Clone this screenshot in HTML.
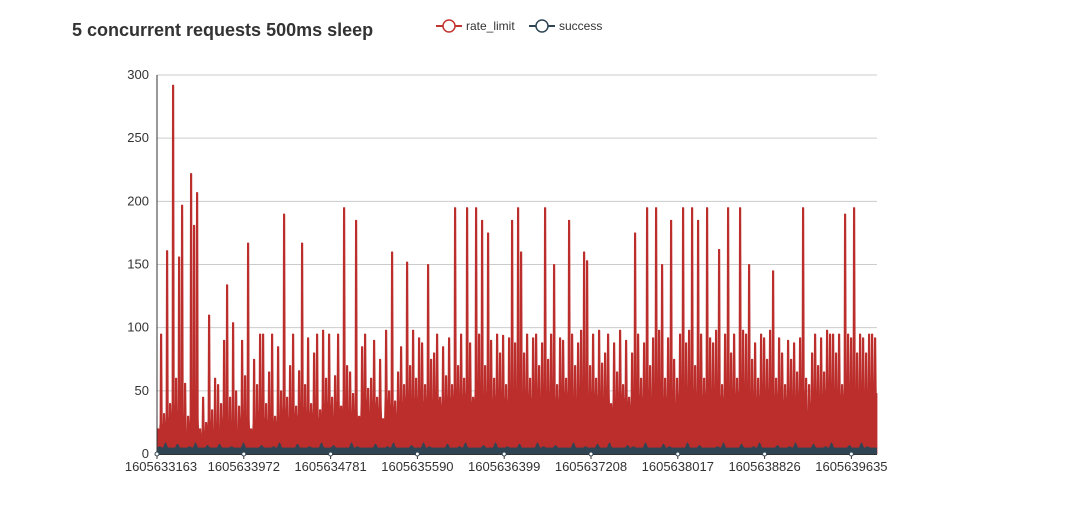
<!DOCTYPE html>
<html><head><meta charset="utf-8">
<style>
body{margin:0;background:#fff;font-family:"Liberation Sans",sans-serif;}
svg{display:block}
</style></head>
<body>
<svg id="chart" width="1073" height="518" xmlns="http://www.w3.org/2000/svg">
<text x="72" y="36" font-size="18" font-weight="bold" fill="#333" font-family="Liberation Sans, sans-serif">5 concurrent requests 500ms sleep</text>
<g>
<line x1="436" y1="26" x2="462" y2="26" stroke="#c23531" stroke-width="2"/>
<circle cx="449" cy="26" r="6" fill="#fff" stroke="#c23531" stroke-width="1.5"/>
<text x="466" y="30" font-size="12" fill="#333">rate_limit</text>
</g>
<g>
<line x1="529" y1="26" x2="555" y2="26" stroke="#2f4554" stroke-width="2"/>
<circle cx="542" cy="26" r="6" fill="#fff" stroke="#2f4554" stroke-width="1.5"/>
<text x="559" y="30" font-size="12" fill="#333">success</text>
</g>
<g id="grid"></g>
<g id="marks"></g>
<g id="axes"></g>
</svg>
<script>
const rateLimit=[20,95,32,161,40,292,60,156,197,56,
30,222,181,207,20,45,25,110,35,60,
55,40,90,134,45,104,50,38,90,62,
167,20,75,55,95,95,40,65,95,30,
85,50,190,45,70,95,38,66,167,55,
92,40,80,95,35,98,60,95,45,62,
95,38,195,70,65,48,185,30,85,95,
52,60,90,45,75,28,98,50,160,42,
65,85,55,152,70,98,60,92,88,55,
150,75,80,95,45,85,62,92,55,195,
70,95,60,195,88,45,195,95,185,70,
175,90,60,95,80,94,55,92,185,88,
195,160,80,95,60,92,95,70,88,195,
75,95,150,55,92,90,60,185,95,70,
88,98,160,153,70,95,60,98,72,80,
95,40,88,65,98,55,90,45,80,175,
95,60,88,195,70,92,195,98,150,60,
92,185,75,60,95,195,88,98,195,70,
185,95,60,195,92,88,98,162,55,95,
195,80,95,60,195,98,95,150,75,88,
60,95,92,75,98,145,60,92,80,55,
90,75,88,65,92,195,60,55,80,95,
70,92,65,98,95,95,80,95,55,190,
95,92,195,80,95,92,80,95,95,92];
const rateTroughs=[15,25,12,30,15,40,20,35,30,18,
12,30,25,28,10,18,14,28,12,20,
18,15,30,26,20,22,18,14,32,20,
28,10,25,18,35,30,15,28,30,14,
30,20,38,18,30,35,20,32,38,22,
35,20,36,30,18,40,28,42,24,30,
42,22,45,32,28,30,35,16,40,45,
28,32,42,28,38,20,45,30,40,26,
32,42,30,48,36,45,32,46,42,30,
48,36,40,48,28,42,36,46,30,52,
40,48,34,50,44,30,52,46,48,36,
50,44,32,48,40,46,30,44,50,40,
52,48,38,50,30,46,52,40,44,50,
36,50,46,30,46,50,38,50,46,36,
44,50,48,46,38,50,32,48,40,42,
50,24,44,36,50,32,46,28,42,50,
48,34,46,52,38,46,52,50,46,34,
46,50,40,32,50,52,44,50,52,36,
50,48,32,52,46,44,50,48,30,48,
52,42,50,34,52,50,48,46,40,46,
32,48,50,40,52,48,34,50,44,30,
48,40,46,36,50,52,32,28,42,50,
38,48,36,52,50,50,42,50,32,52,
50,48,52,42,50,48,42,50,52,48];
const success=[6,9,5,8,5,6,9,5,7,5,8,5,6,5,9,5,5,7,5,6,
9,5,5,8,5,6,5,9,5,7,5,5,9,6,5,5,8,5,6,9,
5,5,7,5,9,6,5,5,8,5,6,9,5,5,7,5,9,5,6,5,
8,5,5,9,6,5,7,5,5,9,5,6,5,8,5,9,5,5,7,6,
5,9,5,5,8,6,5,5,9,5,7,5,5,6,9,5,5,8,5,6,
9,5,5,7,5,6,9,5,5,8,5,6,9,5,5,7,5,9,6,5];
const yTicks=[0,50,100,150,200,250,300];
const xTickLabels=["1605633163","1605633972","1605634781","1605635590","1605636399","1605637208","1605638017","1605638826","1605639635"];
const X0=157,X1=877,Y0=454,Y1=75;
const yScale=v=>Y0-(v/300)*(Y0-Y1);
const NS="http://www.w3.org/2000/svg";
const grid=document.getElementById('grid'),marks=document.getElementById('marks'),axes=document.getElementById('axes');
function mk(tag,attrs,parent){const e=document.createElementNS(NS,tag);for(const k in attrs)e.setAttribute(k,attrs[k]);parent.appendChild(e);return e;}
yTicks.forEach(t=>{
  const y=yScale(t);
  if(t>0){const g=mk('line',{x1:X0,x2:X1,y1:y,y2:y,stroke:'#ccc','stroke-width':1},grid);
  
  }
  const tx=mk('text',{x:149,y:y+4,'text-anchor':'end','font-size':13,fill:'#333'},axes);
  tx.textContent=t;
  
  
});
const rw=(X1-X0)/rateLimit.length;
let rd=`M${X0},${Y0}`;
rateLimit.forEach((v,i)=>{
  const x=X0+i*rw;
  rd+=` L${x},${yScale(rateTroughs[i])} L${x+0.4},${yScale(v)} L${x+1.8},${yScale(v)} L${x+2.3},${yScale(rateTroughs[i])}`;
});
rd+=` L${X1},${yScale(rateTroughs[rateTroughs.length-1])} L${X1},${Y0} Z`;
const rp=mk('path',{d:rd,fill:'#bb2e2c',stroke:'#bb2e2c','stroke-width':0.8,'stroke-linejoin':'bevel'},marks);


const sw=(X1-X0)/success.length;
let d=`M${X0},${Y0}`;
success.forEach((v,i)=>{const x=X0+i*sw;d+=` L${x},${yScale(5)} L${x+2},${yScale(v)} L${x+3},${yScale(v)} L${x+5},${yScale(5)}`;});
d+=` L${X1},${yScale(5)} L${X1},${Y0} Z`;
const sp=mk('path',{d:d,fill:'#2f4554'},marks);


const ax=mk('line',{x1:X0,x2:X0,y1:Y1,y2:Y0,stroke:'#333','stroke-width':1},axes);


const bx=mk('line',{x1:X0,x2:X1,y1:Y0+0.5,y2:Y0+0.5,stroke:'#333','stroke-width':1},axes);


const step=86.8;
xTickLabels.forEach((lab,i)=>{
  const x=X0+i*step;
  const tk=mk('line',{x1:x,x2:x,y1:Y0,y2:Y0+5,stroke:'#333'},axes);
  
  
  const c=mk('circle',{cx:x,cy:Y0,r:2,fill:'#fff',stroke:'#2f4554','stroke-width':1},axes);
  
  
  const tx=mk('text',{x:x+(i===0?4:0),y:Y0+17,'text-anchor':'middle','font-size':13,fill:'#333'},axes);
  tx.textContent=lab;
  
  
});
</script>
</body></html>
